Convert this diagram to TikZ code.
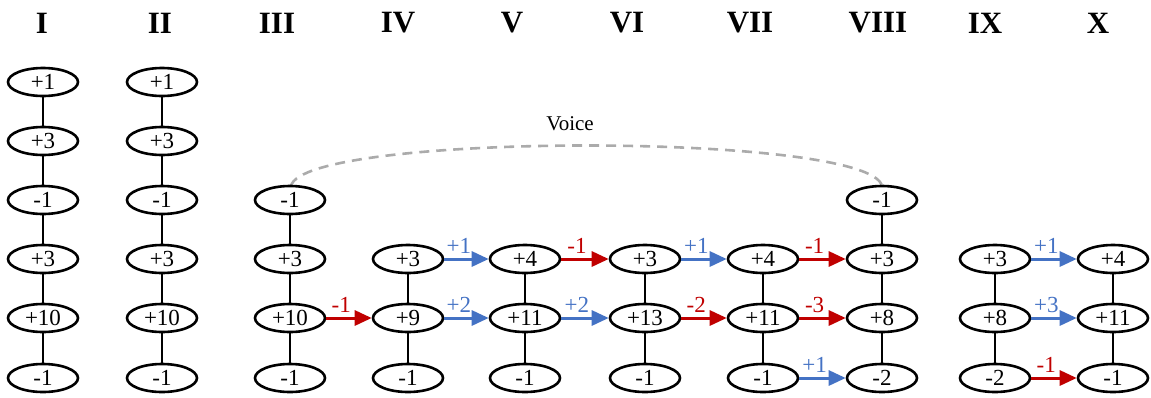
\documentclass[tikz,border=0pt]{standalone}
\usepackage{fontspec}
\setmainfont{Liberation Serif}
\usetikzlibrary{positioning, arrows.meta, shapes.geometric}

\definecolor{upblue}{RGB}{68,114,196}
\definecolor{downred}{RGB}{192,0,0}

\begin{document}
\begin{tikzpicture}[
    x=1pt, y=-1pt,
    val/.style={
      ellipse, draw=black, line width=2.6pt, fill=white,
      minimum width=70pt, minimum height=28pt, inner sep=0pt,
      font=\fontsize{23}{23}\selectfont,
    },
    head/.style={font=\fontsize{31}{31}\selectfont\bfseries},
    link/.style={draw=black, line width=1.3pt},
    upmove/.style={-{Triangle[length=17pt, width=15pt]}, line width=3pt, upblue},
    downmove/.style={-{Triangle[length=17pt, width=15pt]}, line width=3pt, downred},
    uplabel/.style={above, pos=0.33, inner sep=1pt, yshift=3pt, text=upblue, font=\fontsize{23}{23}\selectfont},
    downlabel/.style={above, pos=0.33, inner sep=1pt, yshift=3pt, text=downred, font=\fontsize{23}{23}\selectfont},
    voice/.style={draw=black!33, line width=2.6pt, dash pattern=on 10pt off 7pt},
]
\useasboundingbox (0,0) rectangle (1151,397);

% Column headers
\node[head] (hI)    at (42,23)   {I};
\node[head] (hII)   at (160,23)  {II};
\node[head] (hIII)  at (277,23)  {III};
\node[head] (hIV)   at (398,23)  {IV};
\node[head] (hV)    at (512,23)  {V};
\node[head] (hVI)   at (627,23)  {VI};
\node[head] (hVII)  at (750,23)  {VII};
\node[head] (hVIII) at (878,23)  {VIII};
\node[head] (hIX)   at (985,23)  {IX};
\node[head] (hX)    at (1098,23) {X};

% Voice arc (behind the nodes)
\coordinate (vs) at (291,186);
\coordinate (ve) at (882,186);
\draw[voice] (vs) .. controls (303,132) and (870,132) .. (ve);
\node[font=\fontsize{21}{21}\selectfont] (voicelbl) at (570,124) {Voice};

% Columns I and II
\node[val] (a1) at (43,82)  {+1};
\node[val] (a2) at (43,141) {+3};
\node[val] (a3) at (43,200) {-1};
\node[val] (a4) at (43,259) {+3};
\node[val] (a5) at (43,318) {+10};
\node[val] (a6) at (43,378) {-1};
\node[val] (b1) at (162,82)  {+1};
\node[val] (b2) at (162,141) {+3};
\node[val] (b3) at (162,200) {-1};
\node[val] (b4) at (162,259) {+3};
\node[val] (b5) at (162,318) {+10};
\node[val] (b6) at (162,378) {-1};

% Column III
\node[val] (c3) at (290,200) {-1};
\node[val] (c4) at (290,259) {+3};
\node[val] (c5) at (290,318) {+10};
\node[val] (c6) at (290,378) {-1};

% Columns IV to VII
\node[val] (d4) at (408,259) {+3};
\node[val] (d5) at (408,318) {+9};
\node[val] (d6) at (408,378) {-1};
\node[val] (e4) at (525,259) {+4};
\node[val] (e5) at (525,318) {+11};
\node[val] (e6) at (525,378) {-1};
\node[val] (f4) at (645,259) {+3};
\node[val] (f5) at (645,318) {+13};
\node[val] (f6) at (645,378) {-1};
\node[val] (g4) at (763,259) {+4};
\node[val] (g5) at (763,318) {+11};
\node[val] (g6) at (763,378) {-1};

% Column VIII
\node[val] (h3) at (882,200) {-1};
\node[val] (h4) at (882,259) {+3};
\node[val] (h5) at (882,318) {+8};
\node[val] (h6) at (882,378) {-2};

% Columns IX and X
\node[val] (i4) at (995,259) {+3};
\node[val] (i5) at (995,318) {+8};
\node[val] (i6) at (995,378) {-2};
\node[val] (j4) at (1113,259) {+4};
\node[val] (j5) at (1113,318) {+11};
\node[val] (j6) at (1113,378) {-1};

% Vertical links
\foreach \c in {a,b} {
  \draw[link] (\c1) -- (\c2) (\c2) -- (\c3) (\c3) -- (\c4) (\c4) -- (\c5) (\c5) -- (\c6);
}
\foreach \c in {c,h} {
  \draw[link] (\c3) -- (\c4) (\c4) -- (\c5) (\c5) -- (\c6);
}
\foreach \c in {d,e,f,g,i,j} {
  \draw[link] (\c4) -- (\c5) (\c5) -- (\c6);
}

% Moves between columns
\draw[downmove] (c5) -- node[downlabel] {-1} (d5);
\draw[upmove]   (d4) -- node[uplabel] {+1} (e4);
\draw[upmove]   (d5) -- node[uplabel] {+2} (e5);
\draw[downmove] (e4) -- node[downlabel] {-1} (f4);
\draw[upmove]   (e5) -- node[uplabel] {+2} (f5);
\draw[upmove]   (f4) -- node[uplabel] {+1} (g4);
\draw[downmove] (f5) -- node[downlabel] {-2} (g5);
\draw[downmove] (g4) -- node[downlabel] {-1} (h4);
\draw[downmove] (g5) -- node[downlabel] {-3} (h5);
\draw[upmove]   (g6) -- node[uplabel] {+1} (h6);
\draw[upmove]   (i4) -- node[uplabel] {+1} (j4);
\draw[upmove]   (i5) -- node[uplabel] {+3} (j5);
\draw[downmove] (i6) -- node[downlabel] {-1} (j6);
\end{tikzpicture}
\end{document}
